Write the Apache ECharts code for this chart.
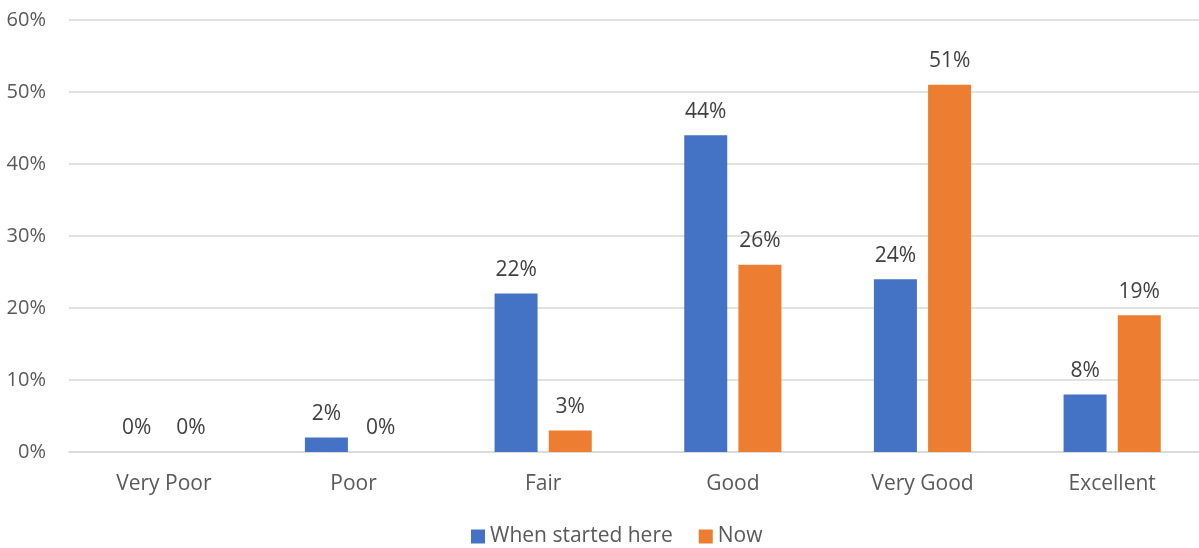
<!DOCTYPE html>
<html>
<head>
<meta charset="utf-8">
<script src="https://cdn.jsdelivr.net/npm/echarts@6/dist/echarts.min.js"></script>
<style>
html,body{margin:0;padding:0;background:#fff;overflow:hidden;width:1199px;height:548px;}
#chart{width:1207px;height:548px;}
</style>
</head>
<body>
<div id="chart"></div>
<script>
var categories = ['Very Poor', 'Poor', 'Fair', 'Good', 'Very Good', 'Excellent'];
var whenStarted = [0, 2, 22, 44, 24, 8];
var now = [0, 0, 3, 26, 51, 19];
var seriesNames = ['When started here', 'Now'];

var font = '"Open Sans", sans-serif';
var chart = echarts.init(document.getElementById('chart'));
chart.setOption({
  animation: false,
  grid: { left: 69, top: 20, right: 0, bottom: 96, containLabel: false },
  legend: {
    top: 521, left: 466,
    itemWidth: 14, itemHeight: 14, itemGap: 26,
    icon: 'rect',
    textStyle: { color: '#595959', fontSize: 21, fontFamily: font },
    data: seriesNames
  },
  xAxis: {
    type: 'category', data: categories,
    axisLine: { lineStyle: { color: '#d9d9d9', width: 1.5 } },
    axisTick: { show: false },
    axisLabel: { color: '#595959', fontSize: 21, fontFamily: font, margin: 22 }
  },
  yAxis: {
    type: 'value', min: 0, max: 60, interval: 10,
    axisLine: { show: false }, axisTick: { show: false },
    splitLine: { lineStyle: { color: '#d9d9d9', width: 1.5 } },
    axisLabel: { color: '#595959', fontSize: 20, fontFamily: font, margin: 23, formatter: '{value}%' }
  },
  series: [
    {
      name: seriesNames[0], type: 'bar', data: whenStarted,
      barWidth: 43, barGap: '26%',
      itemStyle: { color: '#4472c4' },
      label: { show: true, position: 'top', distance: 13, formatter: '{c}%', color: '#404040', fontSize: 21, fontFamily: font }
    },
    {
      name: seriesNames[1], type: 'bar', data: now,
      barWidth: 43,
      itemStyle: { color: '#ed7d31' },
      label: { show: true, position: 'top', distance: 13, formatter: '{c}%', color: '#404040', fontSize: 21, fontFamily: font }
    }
  ]
});
</script>
</body>
</html>
